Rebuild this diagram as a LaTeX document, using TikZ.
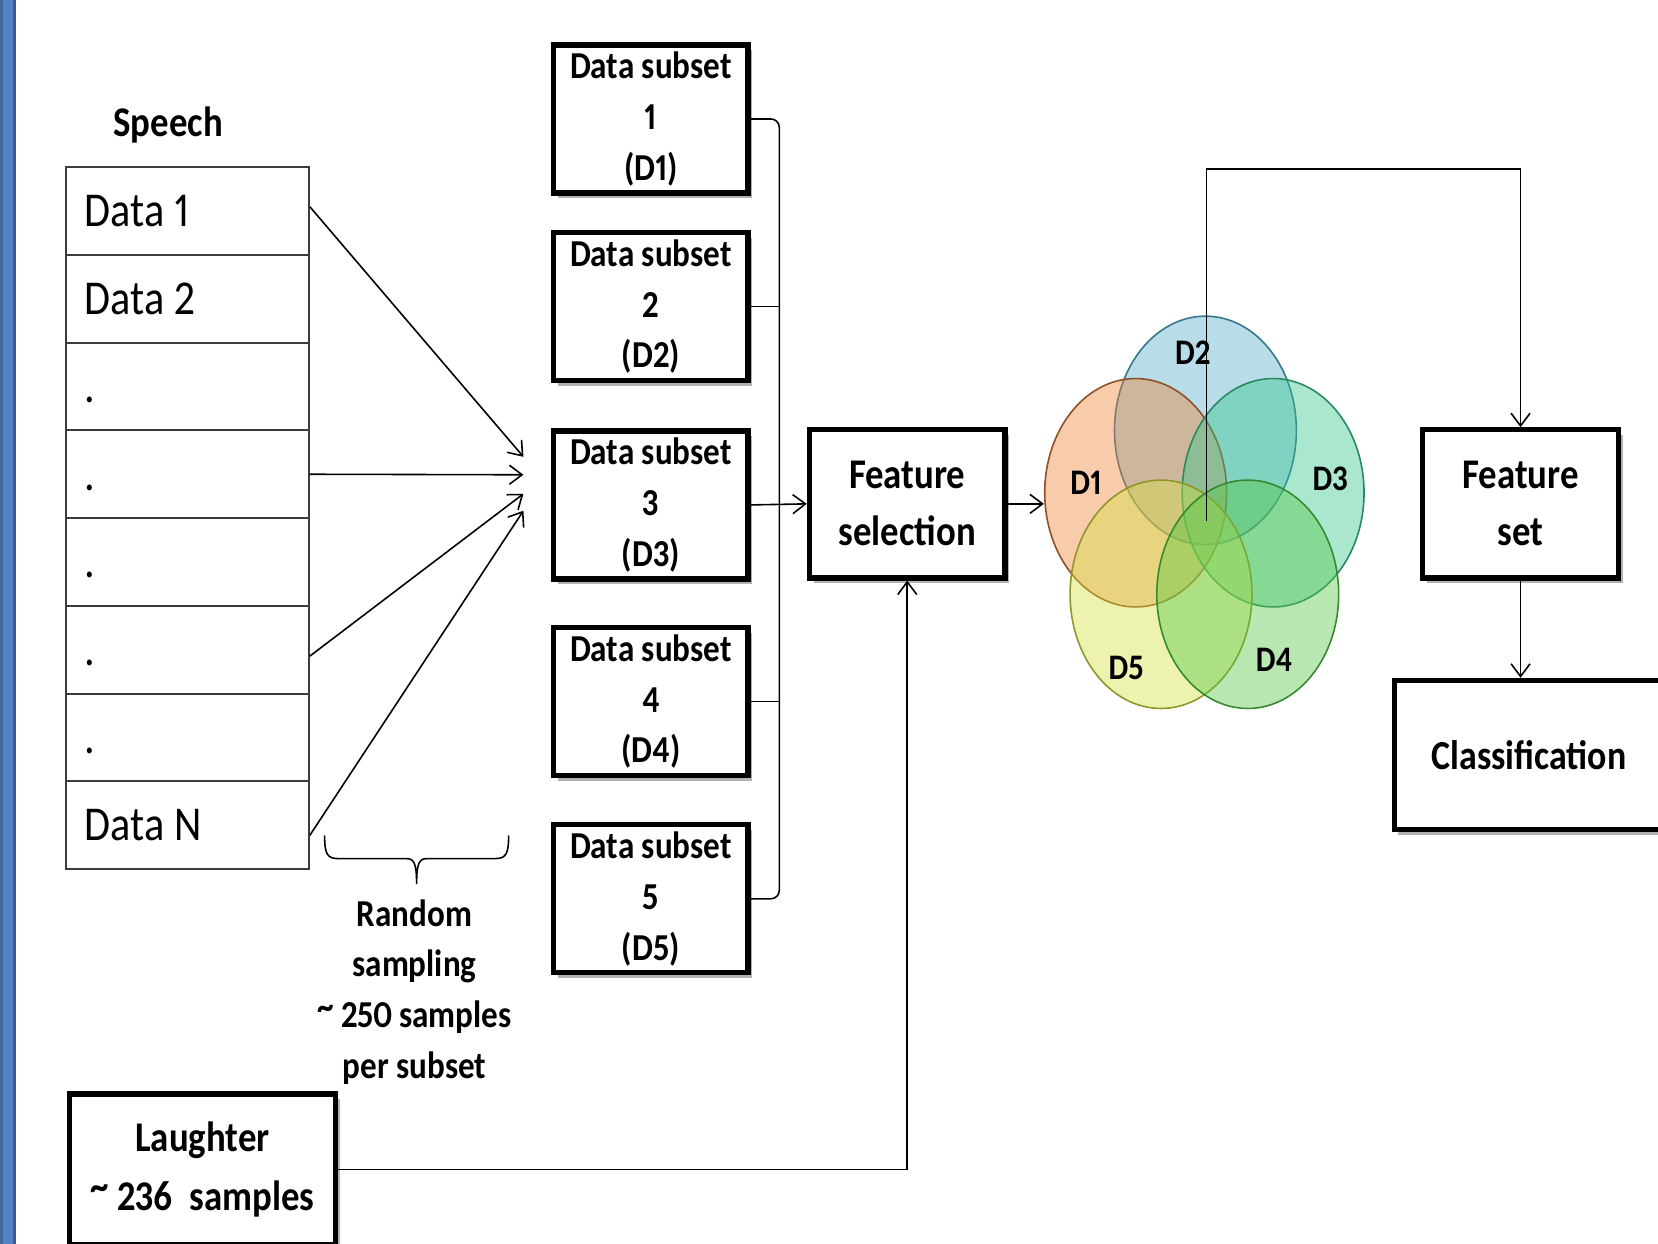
\documentclass[tikz,border=0pt]{standalone}
\usepackage{fontspec}
\setmainfont{Carlito}[FakeStretch=0.87,Numbers=Proportional]
\usetikzlibrary{arrows.meta,shapes.geometric,shadows,calc}
\definecolor{barlight}{HTML}{5283C3}
\definecolor{bardark}{HTML}{3A5E8C}
\definecolor{baredge}{HTML}{41689A}
\definecolor{tablegray}{HTML}{3C3C3C}
\definecolor{cOne}{HTML}{EE8236}\definecolor{bOne}{HTML}{8E5026}
\definecolor{cTwo}{HTML}{55ABC8}\definecolor{bTwo}{HTML}{35768E}
\definecolor{cThree}{HTML}{35C68A}\definecolor{bThree}{HTML}{278A60}
\definecolor{cFour}{HTML}{56C644}\definecolor{bFour}{HTML}{358A30}
\definecolor{cFive}{HTML}{D3E240}\definecolor{bFive}{HTML}{8E9628}
\newcommand\fsz[2]{\fontsize{#1}{#2}\selectfont}
\newcommand\hitilde{\raisebox{0.22em}{\textasciitilde}}
\begin{document}
\begin{tikzpicture}[x=1pt,y=-1pt,
  >={Straight Barb[length=12pt,width=18pt]},
  conn/.style={line width=1.5pt},
  box/.style={draw, line width=5pt, fill=white, align=center, inner sep=0pt,
    drop shadow={shadow xshift=4pt,shadow yshift=-5pt,opacity=0.3,fill=black}},
  subbox/.style={box, minimum width=184pt, minimum height=140pt,
    font={\fsz{36}{48}\bfseries}},
  bigbox/.style={box, minimum width=185pt, minimum height=140pt,
    font={\fsz{40}{54}\bfseries}},
  row/.style={draw=tablegray, line width=2pt, text width=194pt, inner xsep=18pt,
    inner ysep=0pt, minimum height=83pt, align=left, text height=30pt, text depth=0pt,
    font={\fsz{46}{50}}},
  venn/.style={ellipse, minimum width=172pt, minimum height=216pt, line width=1.5pt,
    fill opacity=0.42, draw opacity=1},
  vlab/.style={font={\fsz{34}{40}\bfseries}},
  lab/.style={align=center}
]
\useasboundingbox (0,0) rectangle (1568,1176);
% left bar
\fill[baredge] (0,0) rectangle (3,1176);
\fill[barlight] (3,0) rectangle (12,1176);
\fill[bardark] (12,0) rectangle (15,1176);

% Speech table
\node[lab, font={\fsz{40}{48}\bfseries}] (speech) at (159,118) {Speech};
\node[row] (r1) at (177,199.5) {Data\hspace{0.2em}1};
\node[row] (r2) at (177,282.5) {Data\hspace{0.2em}2};
\node[row] (r3) at (177,365.5) {.};
\node[row] (r4) at (177,448.5) {.};
\node[row] (r5) at (177,531.5) {.};
\node[row] (r6) at (177,614.5) {.};
\node[row] (r7) at (177,697.5) {.};
\node[row] (r8) at (177,780) {Data\hspace{0.2em}N};

% sampling arrows
\coordinate (a1) at (495,432);
\coordinate (a2) at (495,449);
\coordinate (a3) at (495,467);
\coordinate (a4) at (495,483);
\draw[conn,->] ([yshift=4pt]r1.east) -- (a1);
\draw[conn,->] (r4.east) -- (a2);
\draw[conn,->] ([yshift=-6pt]r6.east) -- (a3);
\draw[conn,->] ([yshift=-10pt]r8.east) -- (a4);

% brace
\draw[conn] (307,790) .. controls (307,807) and (309,812) .. (320,812) -- (384,812)
  .. controls (391,812) and (394,815) .. (394,836)
  .. controls (394,815) and (397,812) .. (404,812) -- (468,812)
  .. controls (479,812) and (481,807) .. (481,790);
\node[lab, font={\fsz{36}{48}\bfseries}] (rs) at (392,938)
  {Random\\sampling\\\hitilde{} 250\,samples\\per subset};

% data subsets
\node[subbox] (s1) at (615.5,112.5) {Data subset\\1\\(D1)};
\node[subbox] (s2) at (615.5,290) {Data subset\\2\\(D2)};
\node[subbox] (s3) at (615.5,477.5) {Data subset\\3\\(D3)};
\node[subbox] (s4) at (615.5,663.5) {Data subset\\4\\(D4)};
\node[subbox] (s5) at (615.5,850) {Data subset\\5\\(D5)};

% feature selection
\node[bigbox] (fs) at (858,476.5) {Feature\\selection};
\coordinate (bus) at (737,480);
\draw[conn, rounded corners=8pt] (s1.east) -- (s1.east -| bus) -- (s5.east -| bus) -- (s5.east);
\draw[conn] (s2.east) -- (s2.east -| bus);
\draw[conn] (s4.east) -- (s4.east -| bus);
\draw[conn,->] (s3.east) -- (fs.west);

% laughter
\node[box, minimum width=252pt, minimum height=143pt, font={\fsz{40}{55}\bfseries}]
  (lg) at (191.5,1106) {Laughter\\\hitilde{} 236~~samples};
\draw[conn,->] (lg.east) -| (fs.south);

% venn
\node[venn, fill=cTwo, draw=bTwo] (v2) at (1140,407) {};
\node[venn, fill=cOne, draw=bOne] (v1) at (1074,466) {};
\node[venn, fill=cThree, draw=bThree] (v3) at (1204,466) {};
\node[venn, fill=cFive, draw=bFive] (v5) at (1098,562) {};
\node[venn, fill=cFour, draw=bFour] (v4) at (1180,562) {};
\node[vlab] (l2) at (1128,334) {D2};
\node[vlab] (l1) at (1027,457) {D1};
\node[vlab] (l3) at (1258,453) {D3};
\node[vlab] (l5) at (1065,632) {D5};
\node[vlab] (l4) at (1205,624) {D4};
\draw[conn,->] (fs.east) -- (fs.east -| v1.west);

% feature set and classification
\node[bigbox] (fset) at (1438,476.5) {Feature\\set};
\node[box, minimum width=255pt, minimum height=141pt, font={\fsz{39}{48}\bfseries}]
  (cls) at (1446,714) {Classification};
\coordinate (vc) at (1141,493);
\coordinate (vtop) at (1141,160);
\draw[conn,->] (vc) -- (vtop) -| (fset.north);
\draw[conn,->] (fset.south) -- (fset.south |- cls.north);
\end{tikzpicture}
\end{document}
